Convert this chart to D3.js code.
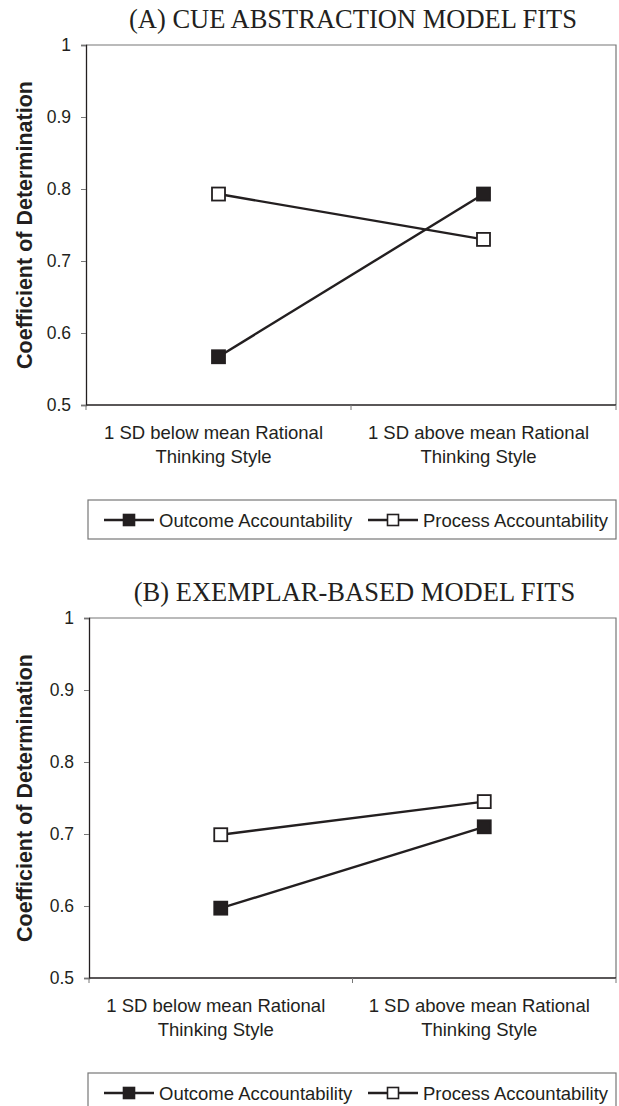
<!DOCTYPE html>
<html>
<head>
<meta charset="utf-8">
<script src="https://cdn.jsdelivr.net/npm/d3@7"></script>
<style>
  body { margin: 0; background: #fff; }
  svg { display: block; }
</style>
</head>
<body>
<div id="chart"></div>
<script>
const categories = [
  ["1 SD below mean Rational", "Thinking Style"],
  ["1 SD above mean Rational", "Thinking Style"]
];
const yTicks = [0.5, 0.6, 0.7, 0.8, 0.9, 1];
const seriesNames = ["Outcome Accountability", "Process Accountability"];
const titles = ["(A) CUE ABSTRACTION MODEL FITS", "(B) EXEMPLAR-BASED MODEL FITS"];
const yTitle = "Coefficient of Determination";

// panel A
const cueOutcome = [0.567, 0.793];
const cueProcess = [0.793, 0.730];
// panel B
const exOutcome = [0.597, 0.710];
const exProcess = [0.699, 0.745];

const W = 619, H = 1106;
const ink = "#231f20";
const sans = "Liberation Sans, Arial, sans-serif";

const svg = d3.select("#chart").append("svg")
  .attr("width", W).attr("height", H);

function panel(top, left, title, outcome, process) {
  const right = 616;
  const pTop = top, pBot = top + 360;

  const x = d3.scaleBand().domain([0, 1]).range([left, right]).padding(0);
  const y = d3.scaleLinear().domain([0.5, 1]).range([pBot, pTop]);
  const cx = i => x(i) + x.bandwidth() / 2;

  const g = svg.append("g");

  // title
  g.append("text")
    .attr("x", (left + right) / 2 + 2)
    .attr("y", pTop - 17)
    .attr("text-anchor", "middle")
    .attr("font-family", "Liberation Serif, Times New Roman, serif")
    .attr("font-size", 26.5)
    .attr("fill", ink)
    .text(title);

  // plot frame (top + right)
  g.append("path")
    .attr("d", `M${left},${pTop}H${right}V${pBot}`)
    .attr("fill", "none")
    .attr("stroke", "#777")
    .attr("stroke-width", 1.2);

  // y axis
  const yAxis = d3.axisLeft(y).tickValues(yTicks).tickFormat(d3.format("")).tickSize(5).tickPadding(10);
  const ya = g.append("g").attr("transform", `translate(${left},0)`).call(yAxis);
  ya.select(".domain").attr("stroke", ink).attr("stroke-width", 1.3);
  ya.selectAll(".tick line").attr("stroke", "#777");
  ya.selectAll("text")
    .attr("font-family", sans)
    .attr("font-size", 17.5)
    .attr("fill", ink);

  // x axis: ticks between categories
  g.append("line")
    .attr("x1", left).attr("x2", right)
    .attr("y1", pBot).attr("y2", pBot)
    .attr("stroke", ink).attr("stroke-width", 1.3);
  const bounds = [left, x(1), right];
  g.selectAll(".xt").data(bounds).join("line")
    .attr("x1", d => d).attr("x2", d => d)
    .attr("y1", pBot).attr("y2", pBot + 5)
    .attr("stroke", "#777");

  const xl = g.selectAll(".xl").data(categories).join("text")
    .attr("x", (d, i) => cx(i) - 5)
    .attr("y", pBot + 34)
    .attr("text-anchor", "middle")
    .attr("font-family", sans)
    .attr("font-size", 18.5)
    .attr("fill", ink);
  xl.selectAll("tspan").data(d => d).join("tspan")
    .attr("x", function () { return this.parentNode.getAttribute("x"); })
    .attr("dy", (d, i) => i === 0 ? 0 : 24)
    .text(d => d);

  // y title
  g.append("text")
    .attr("transform", `translate(32,${(pTop + pBot) / 2}) rotate(-90)`)
    .attr("text-anchor", "middle")
    .attr("font-family", sans)
    .attr("font-weight", "bold")
    .attr("font-size", 21.5)
    .attr("fill", ink)
    .text(yTitle);

  const line = d3.line()
    .x((d, i) => cx(i))
    .y(d => y(d));

  const series = [
    { vals: outcome, fill: ink },
    { vals: process, fill: "#fff" }
  ];
  series.forEach(s => {
    g.append("path").datum(s.vals)
      .attr("d", line)
      .attr("fill", "none")
      .attr("stroke", ink)
      .attr("stroke-width", 2.4);
  });
  series.forEach(s => {
    g.selectAll(null).data(s.vals).join("rect")
      .attr("x", (d, i) => cx(i) - 6.5)
      .attr("y", d => y(d) - 6.5)
      .attr("width", 13).attr("height", 13)
      .attr("fill", s.fill)
      .attr("stroke", ink)
      .attr("stroke-width", 1.8);
  });

  // legend
  const lgTop = pBot + 95;
  const lg = g.append("g");
  lg.append("rect")
    .attr("x", 88).attr("y", lgTop)
    .attr("width", right - 88).attr("height", 39)
    .attr("fill", "#fff")
    .attr("stroke", "#777")
    .attr("stroke-width", 1.2);
  const lx = [104, 368];
  const ly = lgTop + 20;
  series.forEach((s, i) => {
    lg.append("line")
      .attr("x1", lx[i]).attr("x2", lx[i] + 50)
      .attr("y1", ly).attr("y2", ly)
      .attr("stroke", ink).attr("stroke-width", 2.4);
    lg.append("rect")
      .attr("x", lx[i] + 25 - 5.5).attr("y", ly - 5.5)
      .attr("width", 11).attr("height", 11)
      .attr("fill", s.fill).attr("stroke", ink).attr("stroke-width", 1.6);
    lg.append("text")
      .attr("x", lx[i] + 55).attr("y", ly + 6.5)
      .attr("font-family", sans)
      .attr("font-size", 18.5)
      .attr("fill", ink)
      .text(seriesNames[i]);
  });
}

panel(45, 86, titles[0], cueOutcome, cueProcess);
panel(618, 89, titles[1], exOutcome, exProcess);
</script>
</body>
</html>
